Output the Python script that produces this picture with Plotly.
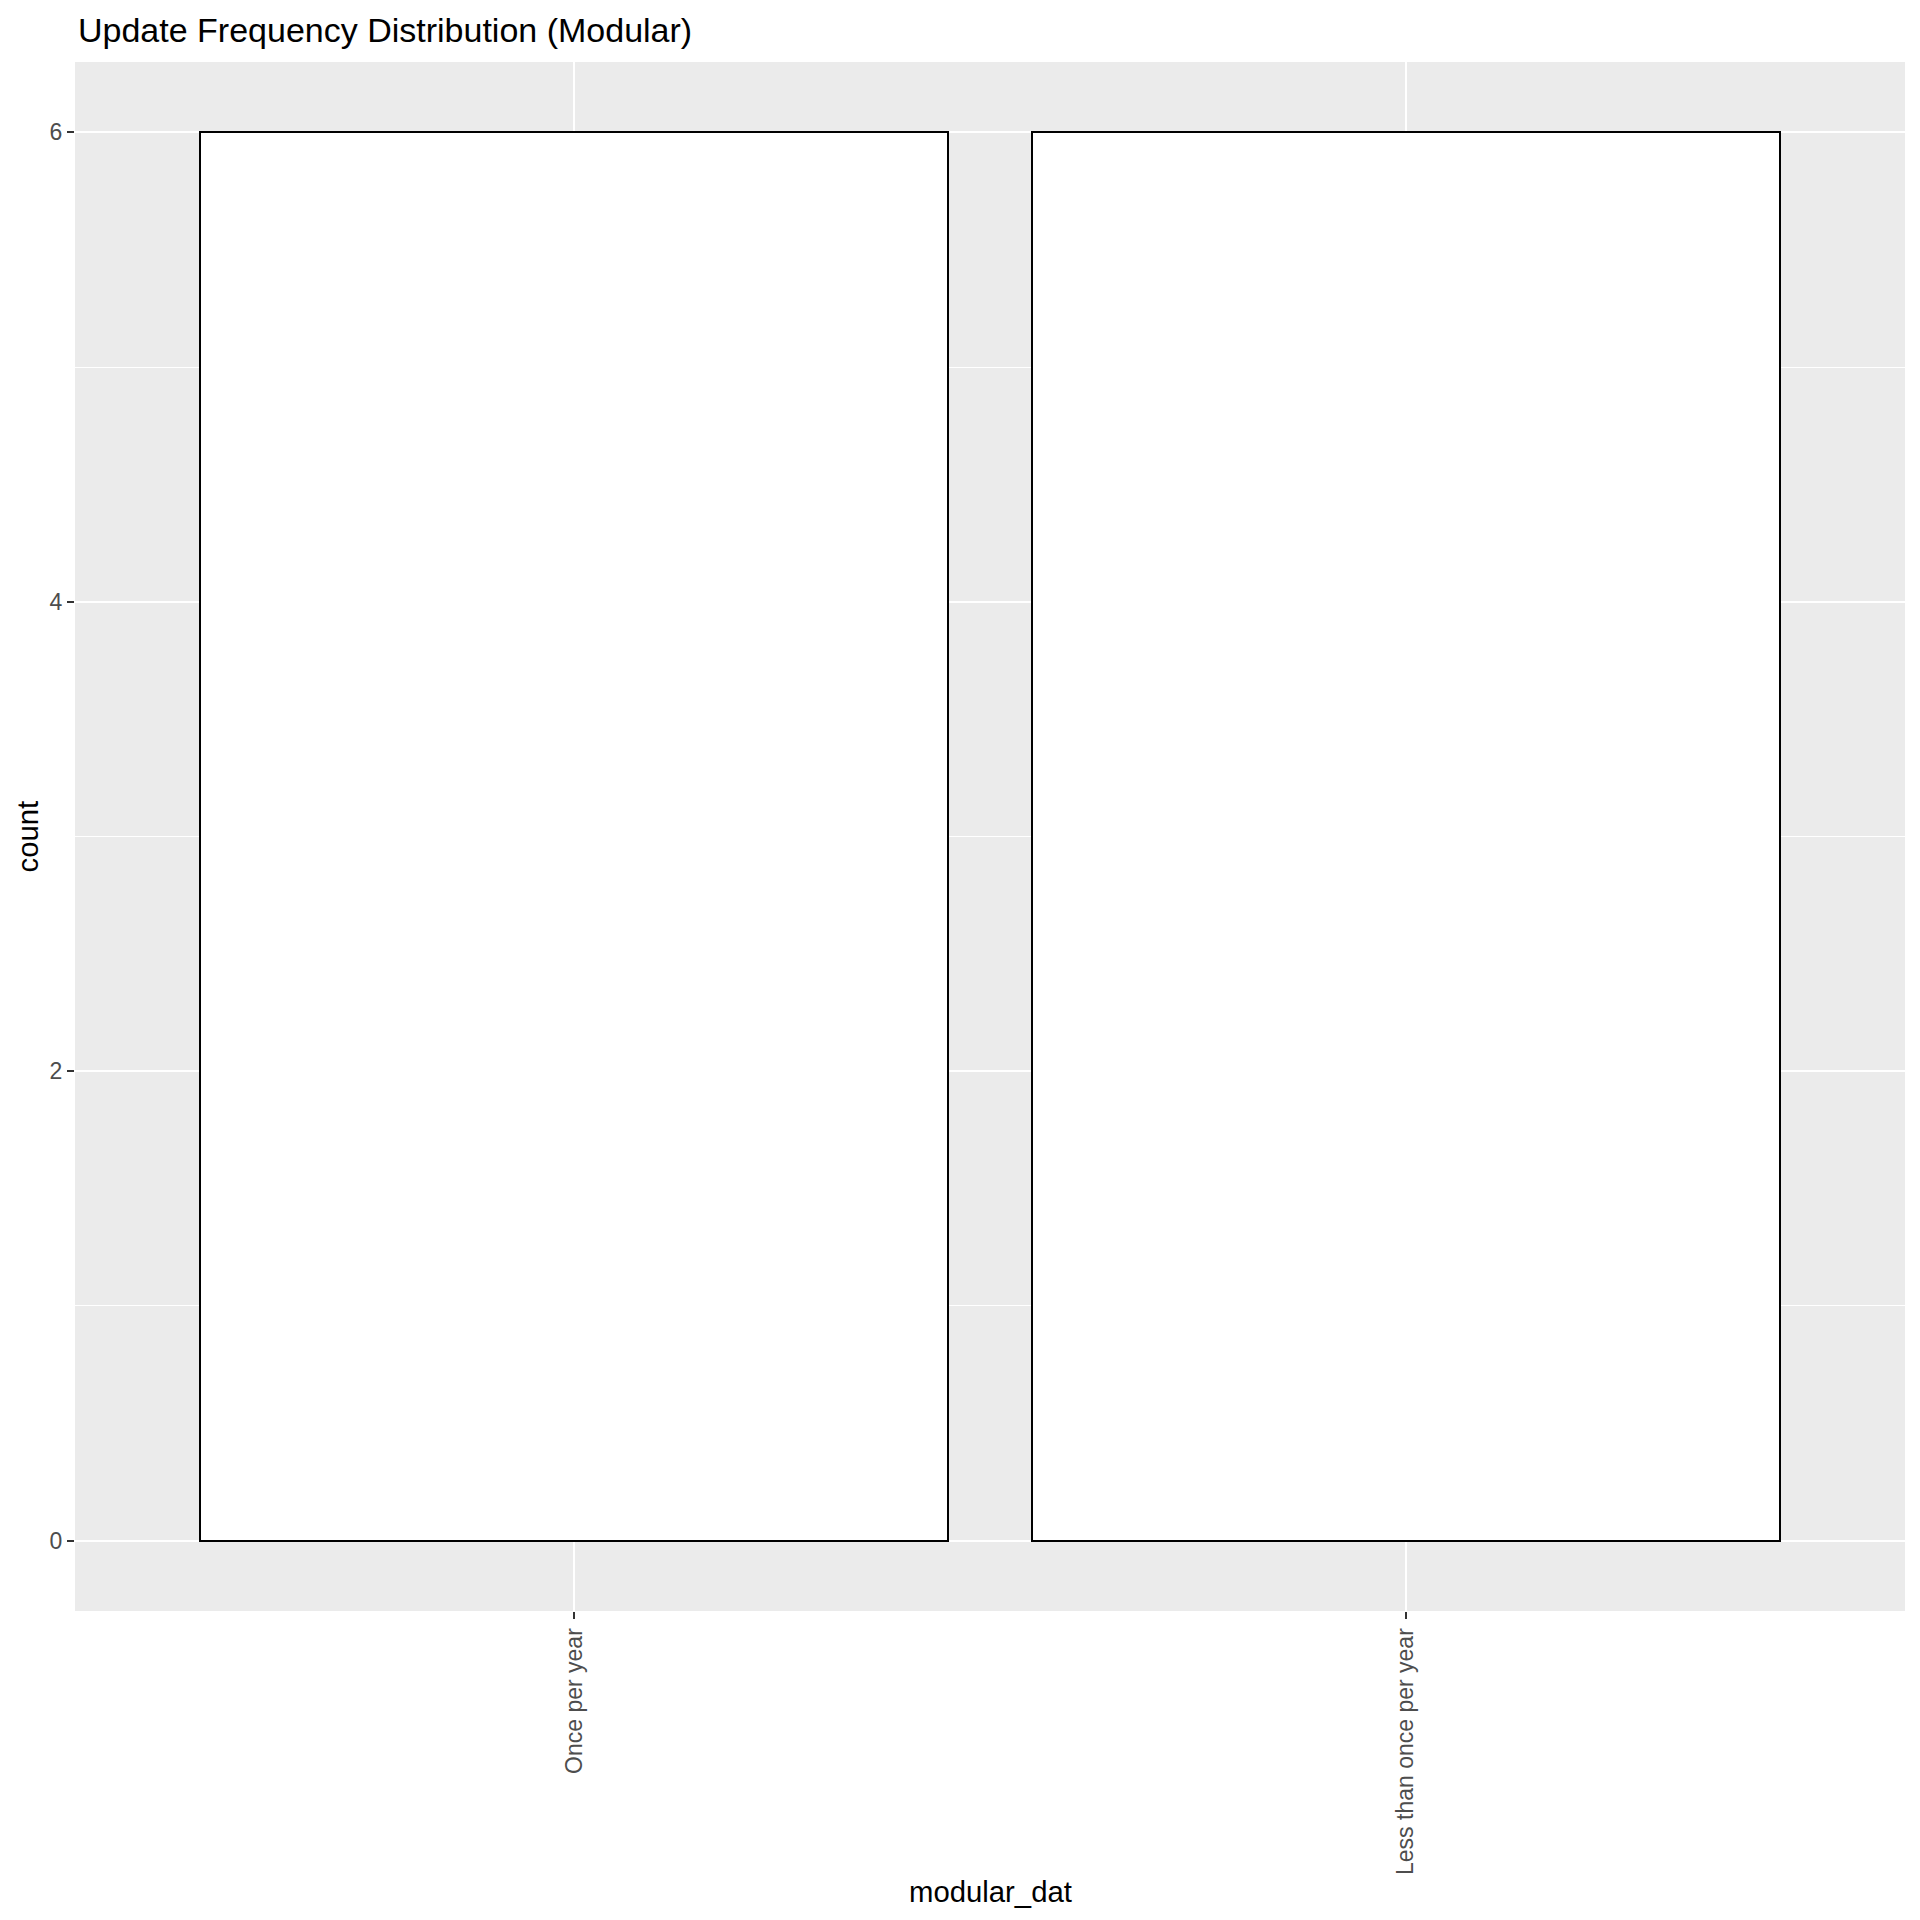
import plotly.graph_objects as go

categories = ["Once per year", "Less than once per year"]
counts = [6, 6]
y_ticks = [0, 2, 4, 6]

W, H = 1920, 1920
L, R, T, B = 75, 1905, 61.5, 1610.7

def px(x):
    return (x - L) / (R - L)

def py(y):
    return (B - y) / (B - T)

FONT = "Liberation Sans, Arial, sans-serif"

fig = go.Figure()
fig.add_trace(go.Bar(
    x=categories, y=counts, width=0.9,
    marker=dict(color="white", line=dict(color="black", width=2)),
    showlegend=False, hoverinfo="x+y",
))

fig.update_layout(
    width=W, height=H,
    margin=dict(l=L, r=W - R, t=T, b=H - B, pad=0),
    paper_bgcolor="white", plot_bgcolor="#EBEBEB",
    font=dict(family=FONT),
    bargap=0,
)
fig.update_xaxes(
    type="category", range=[-0.6, 1.6],
    showgrid=True, gridcolor="white", gridwidth=2.3,
    ticks="outside", ticklen=7, tickwidth=2, tickcolor="#333333",
    tickangle=-90, tickfont=dict(size=23, color="#4D4D4D", family=FONT),
    showline=False, zeroline=False,
)
fig.update_yaxes(
    range=[-0.3, 6.3], tickvals=y_ticks,
    showgrid=True, gridcolor="white", gridwidth=2.3,
    minor=dict(dtick=1, tick0=0, showgrid=True, gridcolor="white", gridwidth=1.1),
    ticks="outside", ticklen=7, tickwidth=2, tickcolor="#333333",
    tickfont=dict(size=23, color="#4D4D4D", family=FONT),
    showline=False, zeroline=False,
)

fig.add_annotation(
    text="Update Frequency Distribution (Modular)",
    xref="paper", yref="paper", x=px(76), y=py(29),
    xanchor="left", yanchor="middle", showarrow=False,
    font=dict(size=34, color="black", family=FONT),
)
fig.add_annotation(
    text="modular_dat",
    xref="paper", yref="paper", x=px((L + R) / 2), y=py(1891),
    xanchor="center", yanchor="middle", showarrow=False,
    font=dict(size=29.3, color="black", family=FONT),
)
fig.add_annotation(
    text="count", textangle=-90,
    xref="paper", yref="paper", x=px(27), y=py((T + B) / 2),
    xanchor="center", yanchor="middle", showarrow=False,
    font=dict(size=29.3, color="black", family=FONT),
)

fig.write_html("out.html")
